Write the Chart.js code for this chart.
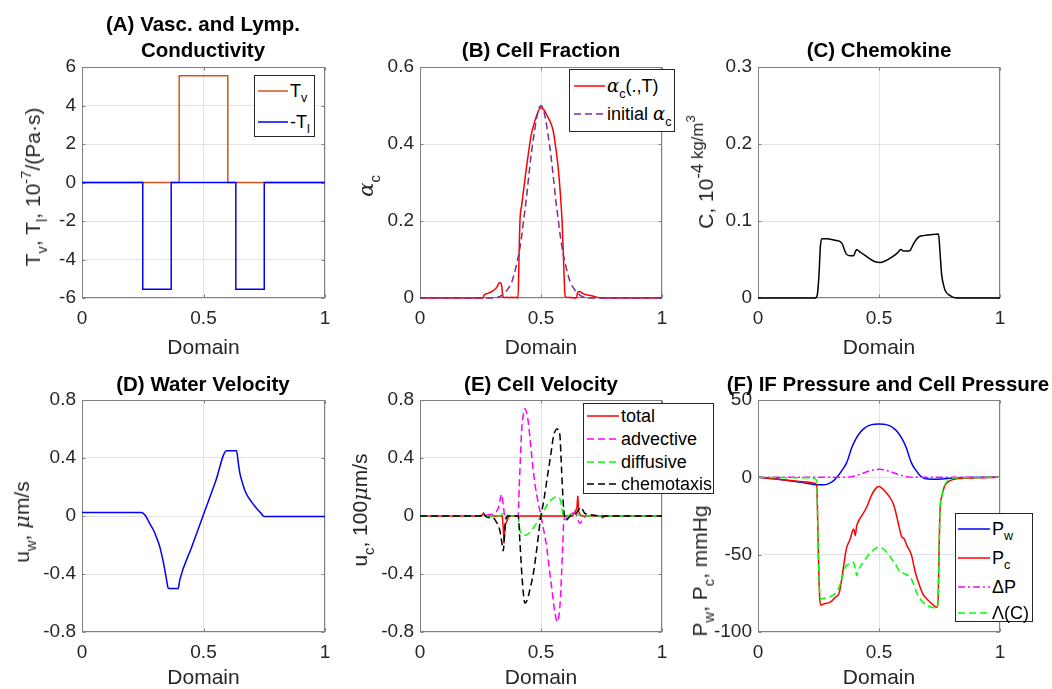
<!DOCTYPE html>
<html><head><meta charset="utf-8">
<script src="https://cdn.jsdelivr.net/npm/chart.js@4.4.1/dist/chart.umd.min.js"></script>
<style>
html,body{margin:0;padding:0;background:#fff}
body{width:1052px;height:689px;position:relative;overflow:hidden;font-family:"Liberation Sans",Arial,Helvetica,sans-serif}
canvas{position:absolute;display:block}
.ttl{position:absolute;font-weight:bold;font-size:20.5px;color:#000;white-space:nowrap;transform:translateX(-50%);text-align:center}
.ylab{position:absolute;font-size:21px;line-height:24px;color:#262626;white-space:nowrap;transform:translate(-50%,-50%) rotate(-90deg)}
.leg{position:absolute;border:1px solid #262626;background:#fff;box-sizing:border-box}
.ent{position:absolute;height:0;display:flex;align-items:center;font-size:18px;color:#000;white-space:nowrap}
.ent svg{flex:none;margin-right:2px}
sub,sup{font-size:70%;line-height:0;position:relative;vertical-align:baseline}
sub{top:0.45em}
sup{top:-0.6em}
sup.big{font-size:80%}
sup.big sup{font-size:80%}
.gk{font-family:"DejaVu Serif","Liberation Serif",serif;font-style:italic}
</style></head><body>
<script>
// ---------------- data ----------------
const X_TICKS = [0, 0.5, 1];
const Y_TICKS_A = [-6, -4, -2, 0, 2, 4, 6];
const Y_TICKS_B = [0, 0.2, 0.4, 0.6];
const Y_TICKS_C = [0, 0.1, 0.2, 0.3];
const Y_TICKS_D = [-0.8, -0.4, 0, 0.4, 0.8];
const Y_TICKS_E = [-0.8, -0.4, 0, 0.4, 0.8];
const Y_TICKS_F = [-100, -50, 0, 50];

// (A) conductivities
const tvX = [0, 0.4, 0.4, 0.6, 0.6, 1];
const tvY = [0, 0, 5.55, 5.55, 0, 0];
const tlX = [0, 0.25, 0.25, 0.367, 0.367, 0.633, 0.633, 0.75, 0.75, 1];
const tlY = [0, 0, -5.55, -5.55, 0, 0, -5.55, -5.55, 0, 0];

// (B) cell fraction
const alphaX = [0, 0.26, 0.265, 0.28, 0.3, 0.315, 0.33, 0.337, 0.343, 0.35, 0.36, 0.37, 0.38, 0.39, 0.4, 0.405, 0.409, 0.413, 0.42, 0.43, 0.44, 0.45, 0.46, 0.47, 0.48, 0.49, 0.5, 0.51, 0.52, 0.53, 0.54, 0.55, 0.56, 0.57, 0.58, 0.587, 0.592, 0.597, 0.6, 0.62, 0.645, 0.652, 0.66, 0.67, 0.68, 0.7, 0.72, 0.74, 0.75, 1];
const alphaY = [0, 0, 0.008, 0.012, 0.018, 0.026, 0.04, 0.034, 0.003, 0.001, 0.002, 0.001, 0.002, 0.001, 0.002, 0, 0.1, 0.2, 0.24, 0.29, 0.34, 0.385, 0.425, 0.45, 0.47, 0.487, 0.495, 0.49, 0.48, 0.468, 0.455, 0.435, 0.395, 0.345, 0.27, 0.2, 0.12, 0.03, 0.003, 0.001, 0, 0.015, 0.017, 0.013, 0.01, 0.007, 0.004, 0.001, 0, 0];
const alpha0X = [0, 0.3, 0.33, 0.35, 0.37, 0.38, 0.39, 0.4, 0.41, 0.42, 0.43, 0.44, 0.45, 0.46, 0.47, 0.48, 0.49, 0.5, 0.51, 0.52, 0.53, 0.54, 0.55, 0.56, 0.57, 0.58, 0.59, 0.6, 0.61, 0.62, 0.63, 0.65, 0.67, 0.7, 1];
const alpha0Y = [0, 0, 0.004, 0.013, 0.03, 0.043, 0.064, 0.09, 0.12, 0.16, 0.21, 0.26, 0.32, 0.375, 0.42, 0.46, 0.49, 0.5, 0.49, 0.46, 0.42, 0.375, 0.32, 0.26, 0.21, 0.16, 0.12, 0.09, 0.064, 0.043, 0.03, 0.013, 0.004, 0, 0];

// (C) chemokine
const chemX = [0, 0.237, 0.245, 0.252, 0.258, 0.264, 0.285, 0.319, 0.347, 0.358, 0.365, 0.38, 0.395, 0.402, 0.408, 0.42, 0.43, 0.457, 0.484, 0.505, 0.525, 0.553, 0.574, 0.591, 0.601, 0.615, 0.629, 0.642, 0.663, 0.684, 0.711, 0.746, 0.752, 0.759, 0.766, 0.773, 0.794, 0.82, 1];
const chemY = [0, 0, 0.004, 0.03, 0.068, 0.077, 0.077, 0.075, 0.071, 0.062, 0.057, 0.055, 0.055, 0.06, 0.063, 0.06, 0.058, 0.052, 0.047, 0.046, 0.048, 0.053, 0.058, 0.063, 0.061, 0.061, 0.062, 0.07, 0.079, 0.081, 0.082, 0.083, 0.06, 0.03, 0.018, 0.01, 0.003, 0, 0];

// (D) water velocity
const uwX = [0, 0.245, 0.26, 0.279, 0.295, 0.306, 0.318, 0.327, 0.335, 0.341, 0.348, 0.354, 0.358, 0.396, 0.402, 0.45, 0.5, 0.55, 0.595, 0.636, 0.643, 0.65, 0.66, 0.67, 0.684, 0.698, 0.712, 0.725, 0.736, 0.746, 0.75, 1];
const uwY = [0.025, 0.025, 0.005, -0.053, -0.1, -0.145, -0.2, -0.26, -0.32, -0.375, -0.44, -0.495, -0.5, -0.5, -0.444, -0.22, 0.01, 0.24, 0.45, 0.45, 0.37, 0.292, 0.23, 0.177, 0.13, 0.097, 0.065, 0.04, 0.02, 0, -0.003, -0.003];

// (E) cell velocity components
const totX = [0, 0.255, 0.262, 0.27, 0.3, 0.34, 0.344, 0.347, 0.351, 0.358, 0.365, 0.37, 0.63, 0.64, 0.648, 0.652, 0.656, 0.662, 0.67, 0.745, 0.755, 0.765, 1];
const totY = [0, 0, 0.02, 0.003, 0, 0, -0.08, -0.19, -0.06, -0.04, -0.01, 0, 0, 0.03, 0.05, 0.14, 0.03, 0.01, 0, 0, -0.012, 0, 0];
const advX = [0, 0.26, 0.27, 0.29, 0.31, 0.325, 0.337, 0.345, 0.352, 0.36, 0.38, 0.405, 0.41, 0.415, 0.42, 0.427, 0.434, 0.441, 0.448, 0.455, 0.462, 0.469, 0.476, 0.484, 0.492, 0.5, 0.509, 0.516, 0.523, 0.53, 0.537, 0.544, 0.551, 0.558, 0.564, 0.568, 0.573, 0.579, 0.585, 0.59, 0.595, 0.6, 0.61, 0.62, 0.635, 0.645, 0.66, 0.675, 0.69, 1];
const advY = [0, 0, 0.005, 0.01, 0.02, 0.06, 0.15, 0.06, -0.02, 0, 0, 0, 0.2, 0.4, 0.59, 0.7, 0.74, 0.71, 0.64, 0.53, 0.41, 0.3, 0.21, 0.13, 0.06, 0, -0.08, -0.14, -0.21, -0.3, -0.4, -0.49, -0.59, -0.67, -0.72, -0.73, -0.7, -0.6, -0.4, -0.2, -0.02, -0.02, 0, 0.01, 0.02, 0.01, -0.05, -0.02, 0, 0];
const difX = [0, 0.33, 0.34, 0.35, 0.36, 0.38, 0.405, 0.413, 0.425, 0.434, 0.445, 0.461, 0.475, 0.488, 0.5, 0.515, 0.529, 0.545, 0.555, 0.564, 0.578, 0.585, 0.592, 0.6, 0.62, 0.64, 0.655, 0.67, 1];
const difY = [0, 0, 0.015, 0.02, 0.005, 0, 0, -0.1, -0.125, -0.133, -0.125, -0.1, -0.065, -0.03, 0, 0.045, 0.087, 0.115, 0.128, 0.131, 0.12, 0.07, 0, -0.01, 0.01, 0.03, 0.01, 0, 0];
const chtX = [0, 0.25, 0.26, 0.27, 0.28, 0.3, 0.315, 0.33, 0.338, 0.344, 0.35, 0.355, 0.365, 0.38, 0.406, 0.413, 0.42, 0.427, 0.433, 0.44, 0.448, 0.455, 0.462, 0.471, 0.48, 0.489, 0.496, 0.503, 0.51, 0.52, 0.53, 0.541, 0.551, 0.558, 0.565, 0.572, 0.578, 0.585, 0.592, 0.597, 0.603, 0.615, 0.63, 0.645, 0.665, 0.68, 0.7, 0.72, 0.76, 1];
const chtY = [0, 0, 0.02, 0, -0.01, -0.01, -0.04, -0.1, -0.18, -0.24, -0.12, -0.02, 0, 0, 0, -0.18, -0.38, -0.53, -0.6, -0.59, -0.55, -0.5, -0.45, -0.37, -0.26, -0.14, -0.04, 0.03, 0.09, 0.2, 0.31, 0.43, 0.545, 0.585, 0.6, 0.595, 0.56, 0.32, 0.09, 0, -0.03, -0.01, 0.01, 0.02, 0.06, 0.02, 0.01, 0.005, 0, 0];

// (F) pressures
const pwX = [0, 0.1, 0.2, 0.24, 0.27, 0.29, 0.31, 0.326, 0.345, 0.367, 0.388, 0.405, 0.422, 0.44, 0.457, 0.48, 0.5, 0.52, 0.543, 0.56, 0.578, 0.595, 0.612, 0.633, 0.655, 0.674, 0.69, 0.72, 0.76, 0.8, 0.85, 1];
const pwY = [0, -1.5, -3.8, -4.8, -4.8, -4.2, -2.5, 0, 4, 9.7, 19.4, 25, 29, 31.8, 33.4, 34.3, 34.5, 34.3, 33.4, 31.8, 29, 25, 19.4, 9.7, 4, 0.5, -0.7, -1.2, -1, -0.5, -0.1, 0];
const pcX = [0, 0.1, 0.2, 0.238, 0.243, 0.247, 0.251, 0.255, 0.26, 0.27, 0.3, 0.32, 0.335, 0.347, 0.356, 0.365, 0.381, 0.395, 0.399, 0.402, 0.407, 0.42, 0.429, 0.45, 0.465, 0.48, 0.491, 0.5, 0.515, 0.53, 0.553, 0.565, 0.58, 0.592, 0.597, 0.603, 0.615, 0.635, 0.645, 0.656, 0.67, 0.681, 0.7, 0.72, 0.739, 0.744, 0.748, 0.752, 0.76, 0.77, 0.79, 0.82, 0.9, 1];
const pcY = [0, -1.5, -3, -4, -6, -30, -60, -78, -82.5, -82, -80.5, -77.5, -75, -64.6, -55, -46.3, -39.9, -33.4, -35.5, -37.7, -32, -27, -24.8, -19, -13, -8.5, -6.5, -6, -7.5, -10, -15, -20, -30, -37.7, -39, -39.5, -44, -50.6, -58, -64.6, -71, -75.4, -79, -82, -84, -80, -50, -22, -12, -6, -2.5, -1, -0.3, 0];
const dpX = [0, 0.36, 0.38, 0.4, 0.42, 0.44, 0.46, 0.48, 0.5, 0.52, 0.54, 0.56, 0.58, 0.6, 0.62, 0.64, 1];
const dpY = [0, 0, 0.3, 0.9, 1.8, 3, 4.1, 4.9, 5.2, 4.9, 4.1, 3, 1.8, 0.9, 0.3, 0, 0];
const lamX = [0, 0.2, 0.238, 0.243, 0.247, 0.251, 0.255, 0.26, 0.28, 0.3, 0.32, 0.335, 0.35, 0.36, 0.381, 0.395, 0.403, 0.409, 0.415, 0.43, 0.45, 0.47, 0.49, 0.5, 0.52, 0.54, 0.56, 0.575, 0.587, 0.6, 0.615, 0.63, 0.645, 0.66, 0.68, 0.7, 0.739, 0.744, 0.748, 0.752, 0.76, 0.77, 0.79, 0.82, 1];
const lamY = [0, -0.3, -1, -5, -30, -60, -75, -78.5, -78, -77, -75, -71, -64, -58, -56, -55, -60, -63.6, -60, -56, -51.5, -48, -45.5, -45.3, -46.5, -50, -54.5, -58, -61.4, -62, -63, -64.5, -70, -76, -80.5, -83, -84.5, -80, -50, -22, -12, -5.5, -1.5, -0.3, 0];

// ---------------- text ----------------
const TITLES = {
  A: '(A) Vasc. and Lymp.<br>Conductivity',
  B: '(B) Cell Fraction',
  C: '(C) Chemokine',
  D: '(D) Water Velocity',
  E: '(E) Cell Velocity',
  F: '(F) IF Pressure and Cell Pressure'
};
const YLABELS = {
  A: 'T<sub>v</sub>, T<sub>l</sub>, 10<sup>-7</sup>/(Pa·s)',
  B: '<span class="gk">α</span><sub>c</sub>',
  C: 'C, 10<sup class="big">-4 kg/m<sup>3</sup></sup>',
  D: 'u<sub>w</sub>, <span class="gk">μ</span>m/s',
  E: 'u<sub>c</sub>, 100<span class="gk">μ</span>m/s',
  F: 'P<sub>w</sub>, P<sub>c</sub>, mmHg'
};
const LEG_A = ['T<sub>v</sub>', '-T<sub>l</sub>'];
const LEG_B = ['<span class="gk">α</span><sub>c</sub>(.,T)', 'initial <span class="gk">α</span><sub>c</sub>'];
const LEG_E = ['total', 'advective', 'diffusive', 'chemotaxis'];
const LEG_F = ['P<sub>w</sub>', 'P<sub>c</sub>', 'ΔP', 'Λ(C)'];
const X_TITLE = 'Domain';

// ---------------- styles / layout ----------------
const FONT = "'Liberation Sans', Arial, Helvetica, sans-serif";
const TICK_COLOR = '#262626';
const GRID_COLOR = '#e3e3e3';
const AXIS_COLOR = '#808080';
const C_ORANGE = '#D95319', C_BLUE = '#0000FF', C_RED = '#FF0000', C_PURPLE = '#7E2F8E',
      C_MAG = '#FF00FF', C_GREEN = '#00FF00', C_BLACK = '#000000';
const DASH = [7, 4], DASHDOT = [7, 3, 2, 3];

const LAYOUT = {
  A: {x: 0,   y: 0,   w: 340, h: 365, left: 82,  right: 325,  top: 67,  bottom: 298},
  B: {x: 340, y: 0,   w: 350, h: 365, left: 420, right: 662,  top: 67,  bottom: 298},
  C: {x: 690, y: 0,   w: 362, h: 365, left: 758, right: 1000, top: 67,  bottom: 298},
  D: {x: 0,   y: 365, w: 340, h: 324, left: 82,  right: 325,  top: 400, bottom: 632},
  E: {x: 340, y: 365, w: 350, h: 324, left: 420, right: 662,  top: 400, bottom: 632},
  F: {x: 690, y: 365, w: 362, h: 324, left: 758, right: 1000, top: 400, bottom: 632}
};
const TITLE_POS = {A: {cx: 203, top: 11, lh: 26}, B: {cx: 541, top: 36, lh: 28}, C: {cx: 879, top: 36, lh: 28},
                   D: {cx: 203, top: 370, lh: 28}, E: {cx: 541, top: 370, lh: 28}, F: {cx: 888, top: 370, lh: 28}};
const YLAB_POS = {A: {cx: 33, cy: 187}, B: {cx: 366, cy: 186}, C: {cx: 706, cy: 172},
                  D: {cx: 22, cy: 522}, E: {cx: 360, cy: 510}, F: {cx: 700, cy: 571}};
const LEG_BOX = {
  A: {l: 254, t: 75, w: 61, h: 62, lineX: 258, lineLen: 30, rows: [91, 122]},
  B: {l: 569, t: 69, w: 106, h: 63, lineX: 574, lineLen: 31, rows: [86, 114]},
  E: {l: 583, t: 403, w: 131, h: 91, lineX: 587, lineLen: 32, rows: [416, 439, 462, 484]},
  F: {l: 955, t: 513, w: 78, h: 109, lineX: 958, lineLen: 32, rows: [529, 558, 587, 613]}
};

// ---------------- helpers ----------------
const pts = (xs, ys) => xs.map((x, i) => ({x: x, y: ys[i]}));
const fmt = v => String(Math.round(v * 1000) / 1000);

const boxPlugin = {
  id: 'matlabBox',
  beforeDatasetsDraw(chart) {
    const {ctx, chartArea: a, scales} = chart;
    const l = Math.round(a.left) + 0.5, r = Math.round(a.right) - 0.5;
    const t = Math.round(a.top) + 0.5, b = Math.round(a.bottom) - 0.5;
    ctx.save();
    ctx.strokeStyle = AXIS_COLOR;
    ctx.lineWidth = 1;
    ctx.strokeRect(l, t, r - l, b - t);
    ctx.beginPath();
    scales.x.ticks.forEach(tk => {
      const px = Math.round(scales.x.getPixelForValue(tk.value)) + 0.5;
      ctx.moveTo(px, b); ctx.lineTo(px, b - 3);
      ctx.moveTo(px, t); ctx.lineTo(px, t + 3);
    });
    scales.y.ticks.forEach(tk => {
      const py = Math.round(scales.y.getPixelForValue(tk.value)) + 0.5;
      ctx.moveTo(l, py); ctx.lineTo(l + 3, py);
      ctx.moveTo(r, py); ctx.lineTo(r - 3, py);
    });
    ctx.stroke();
    ctx.restore();
  }
};

function ds(label, xs, ys, color, dash, smooth) {
  return {
    label: label, data: pts(xs, ys), borderColor: color, backgroundColor: color,
    borderWidth: 1.5, borderDash: dash || [], pointRadius: 0, fill: false,
    tension: smooth ? 0.4 : 0, cubicInterpolationMode: smooth ? 'monotone' : 'default', clip: 4
  };
}

function makeChart(key, datasets, yMin, yMax, yTicks) {
  const L = LAYOUT[key];
  const cv = document.createElement('canvas');
  cv.width = L.w; cv.height = L.h;
  cv.style.left = L.x + 'px'; cv.style.top = L.y + 'px';
  document.body.appendChild(cv);
  datasets.forEach((d, i) => { d.order = -i; });
  const bottomRow = L.y > 0;
  new Chart(cv.getContext('2d'), {
    type: 'line',
    data: {datasets: datasets},
    options: {
      responsive: false, animation: false, devicePixelRatio: 1,
      layout: {padding: {left: 0, right: L.x + L.w - L.right, top: L.top - L.y, bottom: 0}},
      plugins: {legend: {display: false}, title: {display: false}, tooltip: {enabled: false}},
      events: [],
      scales: {
        x: {
          type: 'linear', min: 0, max: 1,
          afterBuildTicks: s => { s.ticks = X_TICKS.map(v => ({value: v})); },
          afterFit: s => { s.height = L.y + L.h - L.bottom; },
          grid: {color: GRID_COLOR, lineWidth: 1, drawTicks: false},
          border: {display: false},
          ticks: {padding: 9, color: TICK_COLOR, font: {family: FONT, size: 19}, maxRotation: 0, autoSkip: false, callback: v => fmt(v)},
          title: {display: true, text: X_TITLE, color: TICK_COLOR, font: {family: FONT, size: 21, lineHeight: 1.0},
                  padding: {top: 0, bottom: bottomRow ? 0 : 6}}
        },
        y: {
          type: 'linear', min: yMin, max: yMax,
          afterBuildTicks: s => { s.ticks = yTicks.map(v => ({value: v})); },
          afterFit: s => { s.width = L.left - L.x; },
          grid: {color: GRID_COLOR, lineWidth: 1, drawTicks: false},
          border: {display: false},
          ticks: {padding: 6, color: TICK_COLOR, font: {family: FONT, size: 19}, autoSkip: false, callback: v => fmt(v)}
        }
      }
    },
    plugins: [boxPlugin]
  });
}

function addText(cls, html, style) {
  const d = document.createElement('div');
  d.className = cls; d.innerHTML = html;
  Object.assign(d.style, style);
  document.body.appendChild(d);
  return d;
}

function addLegend(key, labels, colors, dashes) {
  const B = LEG_BOX[key];
  const box = addText('leg', '', {left: B.l + 'px', top: B.t + 'px', width: B.w + 'px', height: B.h + 'px'});
  labels.forEach((lab, i) => {
    const e = document.createElement('div');
    e.className = 'ent';
    e.style.left = (B.lineX - B.l - 1) + 'px';
    e.style.top = (B.rows[i] - B.t - 1) + 'px';
    const dash = (dashes[i] || []).join(',');
    e.innerHTML = '<svg width="' + B.lineLen + '" height="8"><line x1="0" y1="4" x2="' + B.lineLen + '" y2="4" stroke="' + colors[i] +
      '" stroke-width="1.5"' + (dash ? ' stroke-dasharray="' + dash + '"' : '') + '/></svg><span>' + lab + '</span>';
    box.appendChild(e);
  });
}

// ---------------- charts ----------------
makeChart('A', [
  ds('T_v', tvX, tvY, C_ORANGE, null, false),
  ds('-T_l', tlX, tlY, C_BLUE, null, false)
], -6, 6, Y_TICKS_A);

makeChart('B', [
  ds('alpha_c(.,T)', alphaX, alphaY, C_RED, null, true),
  ds('initial alpha_c', alpha0X, alpha0Y, C_PURPLE, DASH, true)
], 0, 0.6, Y_TICKS_B);

makeChart('C', [
  ds('C', chemX, chemY, C_BLACK, null, true)
], 0, 0.3, Y_TICKS_C);

makeChart('D', [
  ds('u_w', uwX, uwY, C_BLUE, null, true)
], -0.8, 0.8, Y_TICKS_D);

makeChart('E', [
  ds(LEG_E[0], totX, totY, C_RED, null, false),
  ds(LEG_E[1], advX, advY, C_MAG, DASH, true),
  ds(LEG_E[2], difX, difY, C_GREEN, DASH, true),
  ds(LEG_E[3], chtX, chtY, C_BLACK, DASH, true)
], -0.8, 0.8, Y_TICKS_E);

makeChart('F', [
  ds('P_w', pwX, pwY, C_BLUE, null, true),
  ds('P_c', pcX, pcY, C_RED, null, true),
  ds('dP', dpX, dpY, C_MAG, DASHDOT, true),
  ds('Lambda(C)', lamX, lamY, C_GREEN, DASH, true)
], -100, 50, Y_TICKS_F);

// ---------------- titles, axis labels, legends ----------------
Object.keys(TITLES).forEach(k => {
  const p = TITLE_POS[k];
  addText('ttl', TITLES[k], {left: p.cx + 'px', top: p.top + 'px', lineHeight: p.lh + 'px'});
});
Object.keys(YLABELS).forEach(k => {
  const p = YLAB_POS[k];
  addText('ylab', YLABELS[k], {left: p.cx + 'px', top: p.cy + 'px'});
});
addLegend('A', LEG_A, [C_ORANGE, C_BLUE], [null, null]);
addLegend('B', LEG_B, [C_RED, C_PURPLE], [null, DASH]);
addLegend('E', LEG_E, [C_RED, C_MAG, C_GREEN, C_BLACK], [null, DASH, DASH, DASH]);
addLegend('F', LEG_F, [C_BLUE, C_RED, C_MAG, C_GREEN], [null, null, DASHDOT, DASH]);
</script>
</body></html>
